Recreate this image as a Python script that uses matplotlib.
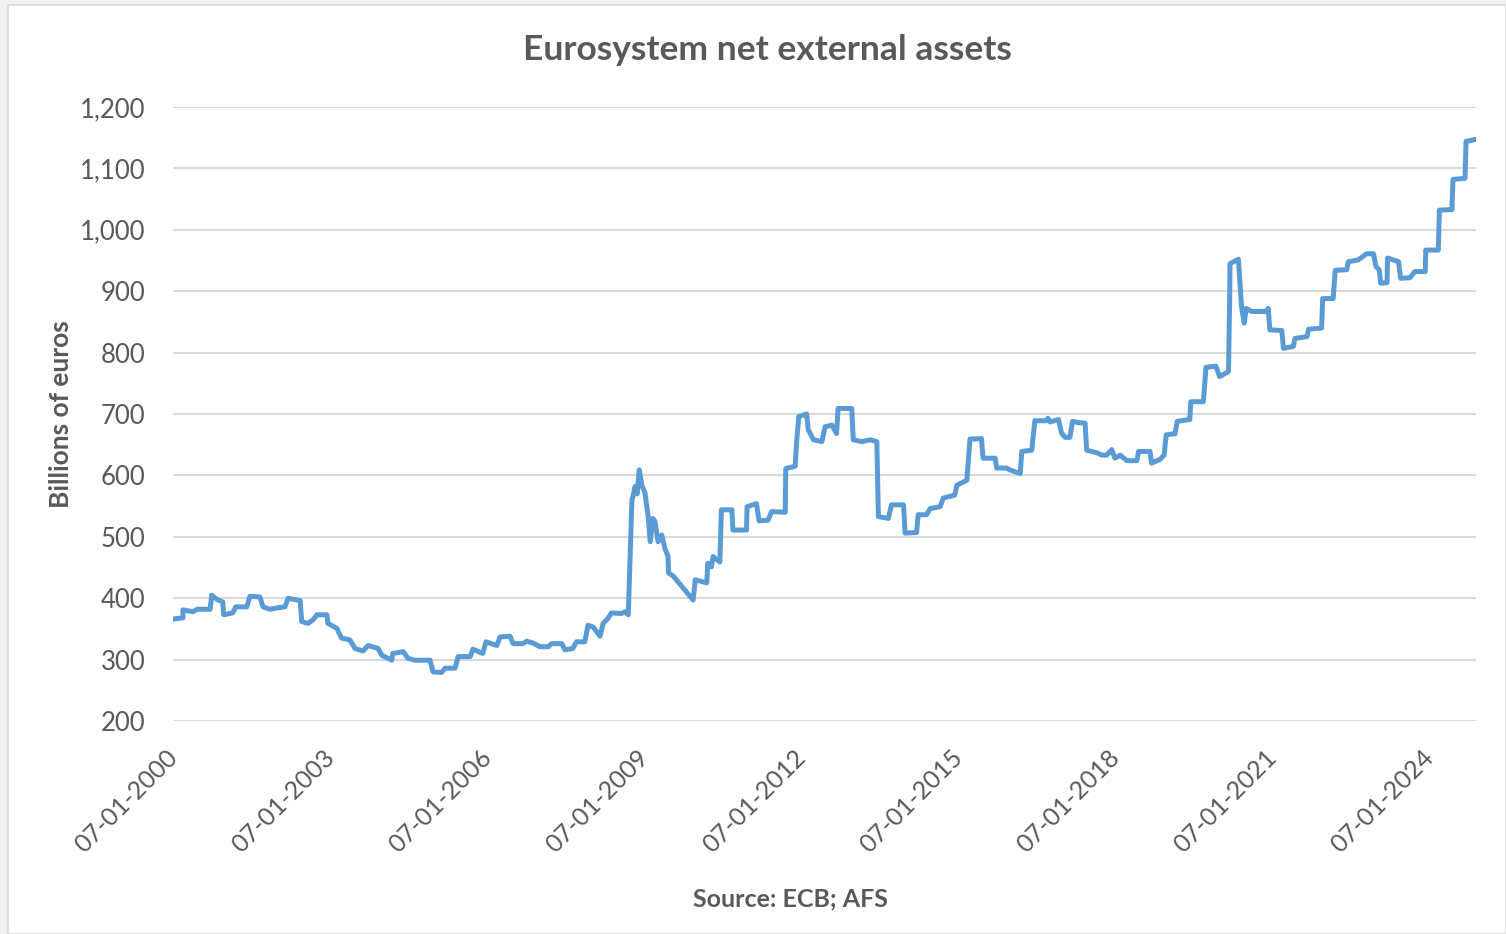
import matplotlib
matplotlib.use("Agg")
import matplotlib.pyplot as plt
from matplotlib.patches import Rectangle
from matplotlib.transforms import ScaledTranslation

plt.rcParams['font.family'] = ['Lato', 'DejaVu Sans']

# weekly balance, sampled at the turning points (decimal years, billions of euros)
years = [
    2000.00, 2000.19, 2000.19, 2000.38, 2000.46, 2000.71, 2000.74, 2000.84, 2000.95, 2000.97,
    2001.14, 2001.20, 2001.41, 2001.47, 2001.66, 2001.72, 2001.85, 2001.97, 2002.14, 2002.20,
    2002.43, 2002.46, 2002.58, 2002.68, 2002.75, 2002.94, 2002.96, 2003.13, 2003.22, 2003.38,
    2003.48, 2003.63, 2003.73, 2003.92, 2003.99, 2004.18, 2004.20, 2004.40, 2004.49, 2004.62,
    2004.91, 2004.97, 2005.13, 2005.20, 2005.39, 2005.45, 2005.68, 2005.73, 2005.92, 2005.98,
    2006.19, 2006.25, 2006.44, 2006.50, 2006.69, 2006.76, 2006.88, 2007.01, 2007.17, 2007.24,
    2007.43, 2007.49, 2007.64, 2007.71, 2007.87, 2007.93, 2008.03, 2008.16, 2008.22, 2008.31,
    2008.38, 2008.57, 2008.64, 2008.70, 2008.77, 2008.79, 2008.83, 2008.87, 2008.91, 2008.96,
    2009.02, 2009.08, 2009.12, 2009.17, 2009.21, 2009.27, 2009.34, 2009.40, 2009.46, 2009.47,
    2009.56, 2009.94, 2009.98, 2010.20, 2010.22, 2010.29, 2010.32, 2010.45, 2010.48, 2010.68,
    2010.70, 2010.96, 2010.97, 2011.15, 2011.20, 2011.37, 2011.44, 2011.70, 2011.71, 2011.89,
    2011.92, 2011.96, 2012.11, 2012.14, 2012.24, 2012.40, 2012.46, 2012.59, 2012.68, 2012.71,
    2012.97, 2013.00, 2013.16, 2013.32, 2013.45, 2013.48, 2013.67, 2013.73, 2013.96, 2013.99,
    2014.21, 2014.24, 2014.40, 2014.47, 2014.66, 2014.72, 2014.94, 2014.98, 2015.17, 2015.23,
    2015.45, 2015.48, 2015.71, 2015.74, 2015.93, 2015.99, 2016.19, 2016.22, 2016.41, 2016.47,
    2016.70, 2016.72, 2016.76, 2016.92, 2016.98, 2017.05, 2017.14, 2017.19, 2017.30, 2017.43,
    2017.46, 2017.65, 2017.75, 2017.84, 2017.94, 2018.00, 2018.10, 2018.23, 2018.42, 2018.45,
    2018.67, 2018.70, 2018.86, 2018.94, 2018.98, 2019.15, 2019.19, 2019.43, 2019.45, 2019.69,
    2019.74, 2019.93, 2020.00, 2020.17, 2020.19, 2020.20, 2020.36, 2020.42, 2020.47, 2020.51,
    2020.61, 2020.89, 2020.93, 2020.96, 2021.19, 2021.22, 2021.41, 2021.44, 2021.67, 2021.70,
    2021.95, 2021.97, 2022.17, 2022.21, 2022.43, 2022.46, 2022.65, 2022.81, 2022.94, 2022.99,
    2023.05, 2023.08, 2023.20, 2023.21, 2023.42, 2023.46, 2023.64, 2023.73, 2023.93, 2023.94,
    2024.18, 2024.20, 2024.44, 2024.46, 2024.69, 2024.71, 2024.88,
]
net_assets = [
    366, 368, 381, 378, 382, 382, 405, 398, 394, 373,
    376, 386, 386, 403, 402, 386, 382, 384, 386, 400,
    396, 362, 359, 365, 373, 373, 359, 351, 335, 332,
    318, 314, 323, 318, 307, 299, 310, 313, 302, 299,
    299, 280, 279, 286, 286, 305, 305, 317, 310, 329,
    323, 337, 338, 326, 326, 330, 327, 321, 321, 326,
    326, 316, 318, 329, 329, 356, 353, 338, 359, 367,
    376, 375, 378, 373, 560, 565, 582, 570, 609, 584,
    571, 533, 492, 530, 525, 492, 503, 481, 468, 441,
    436, 397, 430, 425, 457, 451, 468, 459, 544, 544,
    511, 511, 549, 554, 526, 527, 541, 540, 611, 615,
    658, 696, 700, 674, 658, 655, 679, 682, 668, 709,
    709, 658, 655, 658, 655, 533, 530, 552, 552, 506,
    507, 536, 536, 546, 549, 563, 568, 584, 592, 659,
    660, 628, 628, 612, 612, 609, 603, 639, 641, 689,
    689, 693, 687, 691, 669, 662, 662, 688, 686, 685,
    641, 637, 633, 633, 642, 628, 633, 624, 624, 639,
    639, 620, 626, 633, 666, 668, 688, 691, 720, 720,
    776, 778, 761, 769, 872, 945, 952, 875, 848, 872,
    867, 867, 872, 837, 836, 807, 810, 823, 826, 838,
    840, 888, 888, 934, 935, 948, 951, 961, 961, 940,
    935, 913, 914, 954, 948, 921, 922, 932, 932, 967,
    967, 1032, 1033, 1082, 1084, 1144, 1147,
]

tick_years = [2000, 2003, 2006, 2009, 2012, 2015, 2018, 2021, 2024]
tick_labels = ["07-01-%d" % y for y in tick_years]
y_ticks = [200, 300, 400, 500, 600, 700, 800, 900, 1000, 1100, 1200]

text_color = "#595959"

fig = plt.figure(figsize=(15.06, 9.34), dpi=100)
fig.patch.set_facecolor("#f2f2f2")
# white chart frame behind the axes
fig.patches.append(Rectangle((8 / 1506, 0), 1 - 8 / 1506, 1 - 5 / 934,
                             transform=fig.transFigure, facecolor="white",
                             edgecolor="#d9d9d9", linewidth=1.2, zorder=-5))

ax = fig.add_axes([173 / 1506, 1 - 721 / 934, (1476 - 173) / 1506, (721 - 107) / 934])
ax.set_zorder(2)
ax.set_facecolor("none")
ax.plot(years, net_assets, color="#5b9bd5", linewidth=3.6, solid_joinstyle="round", zorder=3)

ax.set_xlim(2000, 2024.9)
ax.set_ylim(200, 1200)
ax.tick_params(axis="both", length=0)
ax.tick_params(axis="y", pad=20)
ax.tick_params(axis="x", pad=18)
ax.set_yticks(y_ticks)
ax.set_yticklabels(["{:,}".format(v) for v in y_ticks], fontsize=18.5, color=text_color)
ax.set_xticks(tick_years)
ax.set_xticklabels(tick_labels, rotation=45, ha="right", va="top",
                   rotation_mode="anchor", fontsize=18, color=text_color)
# nudge the rotated date labels a little to the left
shift = ScaledTranslation(-7 / 100, 0, fig.dpi_scale_trans)
for lbl in ax.xaxis.get_majorticklabels():
    lbl.set_transform(lbl.get_transform() + shift)
ax.grid(axis="y", color="#d9d9d9", linewidth=1.5)
ax.set_axisbelow(True)
for s in ax.spines.values():
    s.set_visible(False)

ax.set_ylabel("Billions of euros", fontsize=19, fontweight="bold", color=text_color, labelpad=5)
fig.text(767 / 1506, 1 - 50 / 934, "Eurosystem net external assets", ha="center", va="center",
         fontsize=25.5, fontweight="bold", color=text_color)
fig.text(790 / 1506, 1 - 899 / 934, "Source: ECB; AFS", ha="center", va="center",
         fontsize=18, fontweight="bold", color=text_color)

fig.savefig("out.png", dpi=100)
